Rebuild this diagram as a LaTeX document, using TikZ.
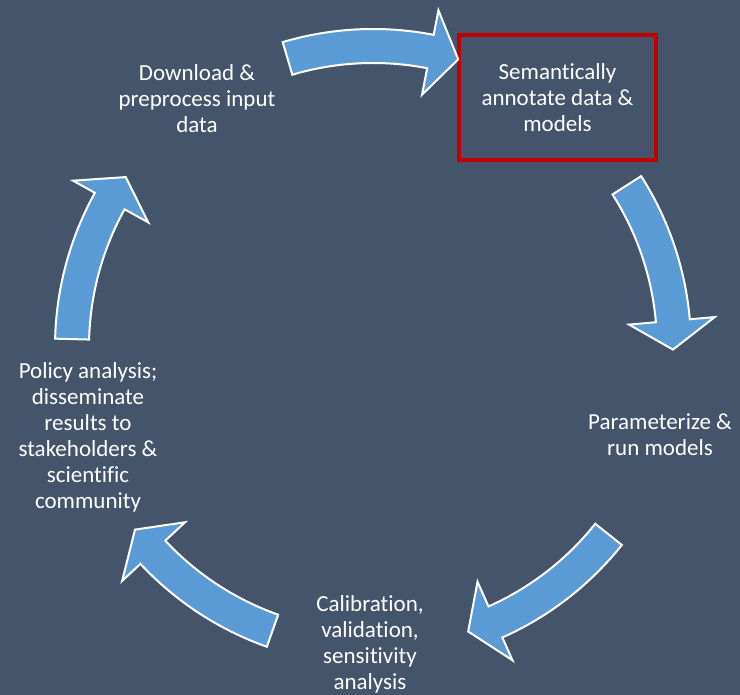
\documentclass[tikz,border=0pt]{standalone}
\usepackage{fontspec}
\setmainfont{Carlito}[Ligatures=NoCommon]
\usetikzlibrary{positioning}
\definecolor{slate}{RGB}{68,84,106}
\definecolor{cycblue}{RGB}{91,155,213}
\definecolor{boxred}{RGB}{192,0,0}

% one curved block arrow of the cycle, centred on angle #1, running clockwise
\newcommand{\cyclearrow}[1]{%
  \draw[cyc] (#1+16.5:318) arc[start angle=#1+16.5, end angle=#1-11, radius=318]
    -- (#1-11:343) -- (#1-16.5:300) -- (#1-11:257) -- (#1-11:284)
    arc[start angle=#1-11, end angle=#1+16.5, radius=284] -- cycle;}

\begin{document}
\begin{tikzpicture}[
    x=1pt, y=1pt,
    stage/.style={text=white, align=center, font=\fontsize{23}{26}\selectfont, inner sep=0pt},
    cyc/.style={fill=cycblue, draw=white, line width=2pt, line join=miter}
]
\fill[slate] (0,0) rectangle (740,695);
\useasboundingbox (0,0) rectangle (740,695);

\node[stage] (download) at (197,596) {Download \&\\preprocess input\\data};
\node[stage, draw=boxred, line width=4pt, minimum width=197, minimum height=125] (annotate) at (557.5,597.5) {Semantically\\annotate data \&\\models};
\node[stage] (run) at (660,260) {Parameterize \&\\run models};
\node[stage] (calib) at (370,51) {Calibration,\\validation,\\sensitivity\\analysis};
\node[stage] (policy) at (88,258) {Policy analysis;\\disseminate\\results to\\stakeholders \&\\scientific\\community};

% arrows between the stages
\begin{scope}[shift={(373,348)}]
\cyclearrow{90}
\cyclearrow{16}
\cyclearrow{-55}
\cyclearrow{-126}
\cyclearrow{-198}
\end{scope}
\end{tikzpicture}
\end{document}
